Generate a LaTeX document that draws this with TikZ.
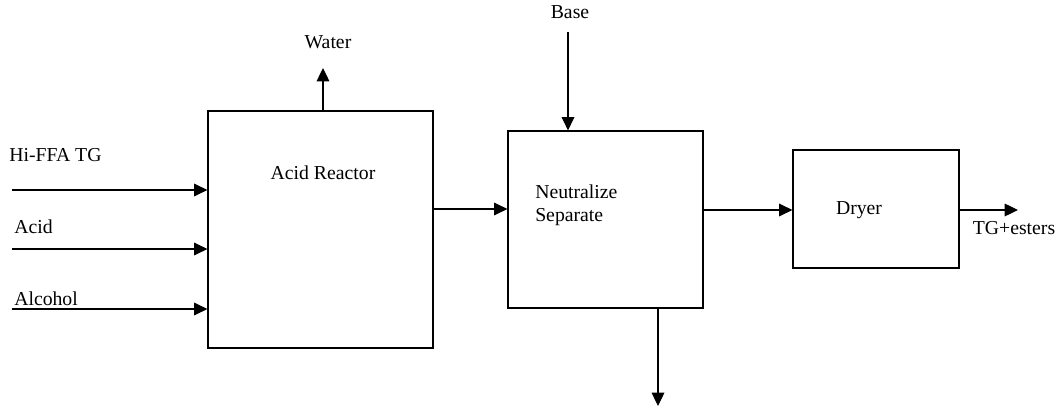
\documentclass[tikz,border=0pt]{standalone}
\usepackage{fontspec}
\setmainfont{Liberation Serif}
\usetikzlibrary{arrows.meta}
\begin{document}
\begin{tikzpicture}[x=0.75pt,y=-0.75pt,
  box/.style={draw,line width=0.9pt,rectangle,inner sep=0pt},
  lbl/.style={inner sep=0pt,font=\fontsize{14.8}{17.2}\selectfont},
  arr/.style={draw,line width=0.9pt,-{Triangle[length=10pt,width=9.5pt]}},
  ln/.style={draw,line width=0.9pt}]
\useasboundingbox (0,0) rectangle (1062,413);
% boxes
\node[box,minimum width=225*0.75pt,minimum height=237*0.75pt] (reactor) at (320.5,229.5) {};
\node[box,minimum width=195*0.75pt,minimum height=177*0.75pt] (neut) at (605.5,219.5) {};
\node[box,minimum width=166*0.75pt,minimum height=118*0.75pt] (dryer) at (876,209) {};
% box texts
\node[lbl] (treactor) at (323,173) {Acid Reactor};
\node[lbl,anchor=west,align=left] (tneut) at (535,205.5) {Neutralize\\Separate};
\node[lbl] (tdryer) at (859,210) {Dryer};
% labels
\node[lbl,anchor=west] (lhi) at (9,155) {Hi-FFA TG};
\node[lbl,anchor=west] (lacid) at (14,227) {Acid};
\node[lbl,anchor=west] (lalc) at (14,299) {Alcohol};
\node[lbl] (lwater) at (328,42) {Water};
\node[lbl] (lbase) at (570,12) {Base};
\node[lbl] (lout) at (1014,228) {TG+esters};
% coordinates
\coordinate (in1) at (12,190);
\coordinate (in2) at (12,249);
\coordinate (in3) at (12,309);
\coordinate (m1) at (470,209);
\coordinate (wtip) at (323,68);
\coordinate (bstart) at (568,32);
\coordinate (btip) at (658,406);
\coordinate (otip) at (1018,210);
% connectors
\draw[arr] (in1) -- (in1 -| reactor.west);
\draw[arr] (in2) -- (in2 -| reactor.west);
\draw[arr] (in3) -- (in3 -| reactor.west);
\draw[arr] (reactor.north -| wtip) -- (wtip);
\draw[arr] (reactor.east |- m1) -- (neut.west |- m1);
\draw[arr] (bstart) -- (bstart |- neut.north);
\draw[arr] (neut.south -| btip) -- (btip);
\draw[arr] (neut.east |- otip) -- (dryer.west |- otip);
\draw[arr] (dryer.east |- otip) -- (otip);
\end{tikzpicture}
\end{document}
